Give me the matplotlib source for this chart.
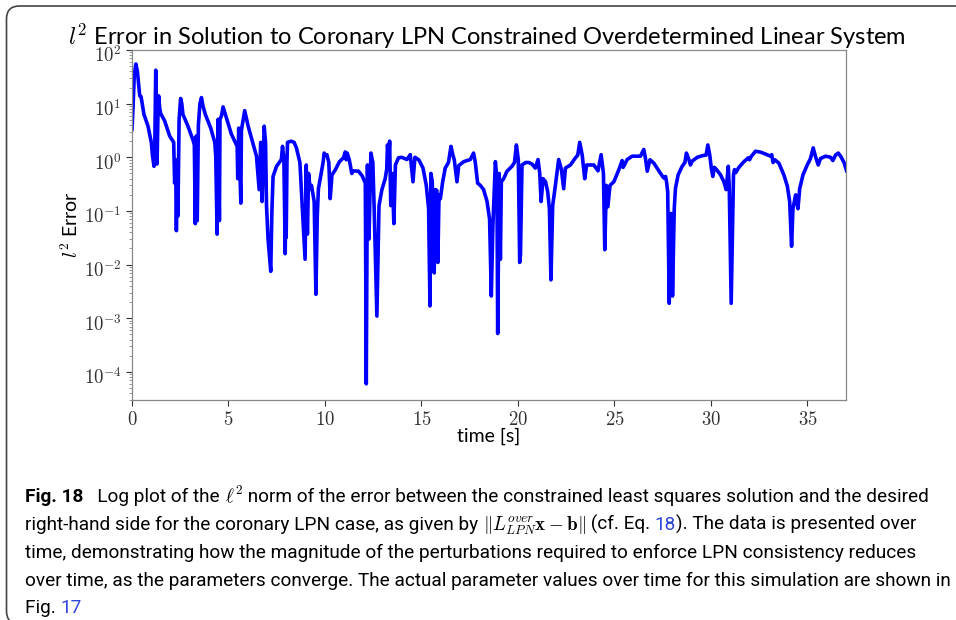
import matplotlib
matplotlib.use("Agg")
import matplotlib.pyplot as plt
import matplotlib.transforms as mtransforms
from matplotlib.patches import FancyBboxPatch

plt.rcParams["mathtext.fontset"] = "cm"

# time [s] and l2 error
t = [0.0, 0.05, 0.12, 0.2, 0.28, 0.4, 0.47, 0.62, 0.83, 1.0, 1.06, 1.14, 1.18, 1.23, 1.27, 1.3,
     1.34, 1.38, 1.44, 1.49, 1.69, 1.95, 2.16, 2.21, 2.26, 2.3, 2.34, 2.38, 2.44, 2.52, 2.58,
     2.64, 2.9, 3.16, 3.23, 3.28, 3.33, 3.38, 3.44, 3.52, 3.6, 3.68, 3.8, 4.08, 4.29, 4.34,
     4.41, 4.46, 4.53, 4.56, 4.64, 4.72, 4.8, 4.89, 5.15, 5.35, 5.45, 5.48, 5.53, 5.64, 5.67,
     5.76, 5.84, 5.92, 6.02, 6.22, 6.45, 6.59, 6.67, 6.74, 6.85, 6.92, 6.97, 7.05, 7.19, 7.25,
     7.31, 7.49, 7.74, 7.8, 7.87, 7.94, 7.97, 7.99, 8.03, 8.06, 8.25, 8.4, 8.52, 8.7, 8.85,
     8.97, 9.03, 9.09, 9.15, 9.23, 9.3, 9.44, 9.53, 9.6, 9.66, 9.79, 9.9, 9.96, 10.02, 10.1,
     10.2, 10.27, 10.36, 10.53, 10.75, 10.96, 11.05, 11.1, 11.15, 11.26, 11.39, 11.45, 11.74,
     11.93, 12.09, 12.14, 12.2, 12.28, 12.38, 12.48, 12.55, 12.69, 12.8, 12.95, 13.12, 13.2,
     13.24, 13.3, 13.35, 13.41, 13.48, 13.57, 13.65, 13.81, 13.98, 14.25, 14.42, 14.56, 14.66,
     14.86, 15.08, 15.25, 15.37, 15.44, 15.49, 15.56, 15.66, 15.73, 15.8, 15.85, 15.91, 15.98,
     16.1, 16.23, 16.4, 16.53, 16.63, 16.7, 16.84, 16.93, 17.19, 17.53, 17.7, 17.79, 17.91,
     18.05, 18.22, 18.4, 18.53, 18.62, 18.7, 18.83, 18.91, 18.95, 19.03, 19.09, 19.14, 19.26,
     19.43, 19.69, 19.82, 19.92, 20.02, 20.09, 20.13, 20.21, 20.4, 20.56, 20.73, 20.9, 21.04,
     21.13, 21.2, 21.3, 21.43, 21.54, 21.63, 21.71, 21.8, 21.94, 22.11, 22.25, 22.37, 22.46,
     22.72, 22.98, 23.1, 23.2, 23.33, 23.46, 23.56, 23.75, 23.93, 24.15, 24.31, 24.43, 24.5,
     24.58, 24.66, 24.77, 24.97, 25.23, 25.4, 25.45, 25.5, 25.66, 25.92, 26.35, 26.52, 26.6,
     26.7, 26.84, 27.04, 27.39, 27.56, 27.65, 27.7, 27.76, 27.84, 27.92, 27.97, 28.01, 28.1,
     28.16, 28.3, 28.51, 28.65, 28.73, 28.84, 28.94, 29.03, 29.29, 29.55, 29.75, 29.84, 29.94,
     30.02, 30.1, 30.18, 30.31, 30.5, 30.67, 30.79, 30.9, 30.95, 31.05, 31.17, 31.22, 31.29,
     31.45, 31.71, 31.94, 32.0, 32.1, 32.31, 32.57, 32.83, 33.09, 33.15, 33.22, 33.31, 33.52,
     33.78, 33.96, 34.08, 34.18, 34.25, 34.32, 34.39, 34.51, 34.6, 34.77, 34.99, 35.16, 35.3,
     35.43, 35.56, 35.68, 35.94, 36.2, 36.32, 36.46, 36.6, 36.72, 36.9, 37.03]

err = [3.3, 8, 35, 55, 40, 14, 13.5, 6.3, 3.8, 1.9, 1.1, 0.68, 1.5, 42, 8, 0.75,
       5, 14, 8, 6.5, 4.8, 2.5, 1.9, 0.33, 0.9, 0.043, 0.5, 0.08, 5, 12.5, 10,
       6.3, 3.8, 2.1, 1.7, 0.058, 2.5, 0.066, 4, 10, 13, 9, 6.3, 3.5, 1.9, 1.05,
       0.037, 5.1, 0.066, 5.1, 6, 8.7, 7, 5.5, 2.7, 1.9, 1.6, 0.4, 3.5, 0.14, 3.2,
       5, 7.4, 5.5, 3.8, 2.1, 1.05, 0.25, 1.9, 0.15, 3.8, 1.9, 0.126, 0.03, 0.0075, 0.1,
       0.44, 0.68, 0.91, 1.6, 0.91, 0.016, 0.3, 0.032, 0.8, 1.9, 2.0, 1.9, 1.5, 0.8, 0.08,
       0.0126, 0.72, 0.037, 0.5, 0.26, 0.3, 0.15, 0.0028, 0.08, 0.26, 0.47, 0.8, 1.2, 1.1, 1.12,
       0.8, 0.17, 0.47, 0.58, 0.83, 0.98, 1.26, 0.9, 1.2, 0.9, 0.5, 0.56, 0.55,
       0.45, 0.33, 0.00006, 0.72, 0.03, 1.2, 0.8, 0.11, 0.0011, 0.126, 0.25, 0.4, 0.6,
       1.7, 0.8, 2.0, 0.126, 0.5, 0.058, 0.72, 0.98, 1.0, 0.91, 1.12, 0.35, 1.0,
       0.9, 0.63, 0.3, 0.11, 0.0017, 0.5, 0.35, 0.007, 0.25, 0.24, 0.011, 0.2, 0.17,
       0.35, 0.63, 0.8, 1.6, 1.1, 0.9, 0.35, 0.7, 0.83, 0.91, 1.2, 0.8, 0.33,
       0.3, 0.25, 0.15, 0.07, 0.0026, 0.05, 0.83, 0.4, 0.00052, 0.5, 0.0126, 0.35, 0.4,
       0.55, 0.68, 0.8, 1.7, 0.9, 0.011, 0.015, 0.72, 0.8, 0.8, 0.75, 0.63, 0.91,
       0.5, 0.15, 0.4, 0.35, 0.23, 0.11, 0.0052, 0.126, 0.3, 0.91, 0.6, 0.26, 0.63,
       0.72, 0.98, 1.1, 1.9, 1.1, 0.4, 0.72, 0.72, 0.72, 0.56, 1.12, 0.5, 0.019,
       0.3, 0.12, 0.3, 0.35, 0.59, 0.87, 0.65, 0.7, 0.91, 1.05, 1.05, 1.4, 1.0,
       0.55, 0.9, 0.78, 0.5, 0.41, 0.44, 0.35, 0.23, 0.0019, 0.09, 0.085, 0.0026, 0.11,
       0.26, 0.47, 0.68, 0.8, 1.2, 0.95, 0.72, 0.85, 1.0, 1.07, 1.1, 1.7, 1.1,
       0.63, 0.44, 0.65, 0.58, 0.47, 0.35, 0.25, 0.68, 0.28, 0.0019, 0.47, 0.59, 0.52,
       0.65, 0.83, 0.98, 0.9, 1.05, 1.3, 1.25, 1.15, 1.05, 1.12, 0.8, 0.9, 0.78,
       0.47, 0.29, 0.15, 0.022, 0.11, 0.15, 0.2, 0.11, 0.26, 0.47, 0.72, 0.95, 1.5,
       1.0, 0.72, 0.95, 1.05, 1.0, 0.87, 1.1, 1.2, 1.05, 0.8, 0.56]

xticks = [0, 5, 10, 15, 20, 25, 30, 35]
yexps = [-4, -3, -2, -1, 0, 1, 2]

title = r"$l^2$ Error in Solution to Coronary LPN Constrained Overdetermined Linear System"
sans = "Lato"

fig = plt.figure(figsize=(9.56, 6.2), dpi=100)
W, H = 956, 620

# rounded frame of the figure box
frame = FancyBboxPatch((0.065, -0.04), 10.5, 6.18, boxstyle="round,pad=0,rounding_size=0.13",
                       transform=fig.dpi_scale_trans, fill=False, ec="#444444", lw=1.2)
fig.patches.append(frame)

ax = fig.add_axes([132 / W, 1 - 400 / H, 714 / W, 350 / H])
ax.semilogy(t, err, color="#0000ff", lw=2.6)
ax.set_xlim(0, 37)
ax.set_ylim(3e-5, 100)
ax.set_xticks(xticks)
ax.set_xticklabels([f"${v}$" for v in xticks])
ax.set_yticks([10.0 ** e for e in yexps])
ax.set_yticklabels([f"$10^{{{e}}}$" for e in yexps], va="center_baseline")
ax.tick_params(labelsize=13.5, colors="#333333", length=4, width=0.8)
ax.tick_params(which="minor", length=2, width=0.6, colors="#888888")
for s in ax.spines.values():
    s.set_color("#888888")
    s.set_linewidth(0.9)

# the y labels sit a little below their ticks in the reference
shift = mtransforms.ScaledTranslation(0, -4 / 100, fig.dpi_scale_trans)
for lab in ax.get_yticklabels():
    lab.set_transform(lab.get_transform() + shift)

ax.set_xlabel("time [s]", fontsize=14, family=sans)
ax.xaxis.set_label_coords(0.5, -0.103)
ax.xaxis.label.set_va("center")
ax.set_ylabel(r"$l^2$ Error", fontsize=14, family=sans)
ax.yaxis.set_label_coords(-0.087, 0.5)
ax.yaxis.label.set_va("center")

fig.text(487 / W, 1 - 45 / H, title, fontsize=17, family=sans, ha="center", va="baseline")

# caption, drawn piece by piece
cap = "Roboto"
blue = "#2f45d8"
lines = [
    [("Fig. 18", "bold", "k"), ("   Log plot of the ", "normal", "k"), (r"$\ell^2$", "normal", "k"),
     (" norm of the error between the constrained least squares solution and the desired", "normal", "k")],
    [("right-hand side for the coronary LPN case, as given by ", "normal", "k"),
     (r"$\Vert L^{over}_{LPN}\mathbf{x} - \mathbf{b}\Vert$", "normal", "k"),
     (" (cf. Eq. ", "normal", "k"), ("18", "normal", blue), ("). The data is presented over", "normal", "k")],
    [("time, demonstrating how the magnitude of the perturbations required to enforce LPN consistency reduces", "normal", "k")],
    [("over time, as the parameters converge. The actual parameter values over time for this simulation are shown in", "normal", "k")],
    [("Fig. ", "normal", "k"), ("17", "normal", blue)],
]
line_base = [502, 530, 558, 585.5, 613]
renderer = fig.canvas.get_renderer()

# pick a caption size so the longest line spans the box like in the reference
probe = fig.text(0, 0, lines[3][0][0], fontsize=13, family=cap)
cap_size = 13 * 928 / probe.get_window_extent(renderer).width
probe.remove()

for pieces, yy in zip(lines, line_base):
    x = 25
    for txt, wt, col in pieces:
        tx = fig.text(x / W, 1 - yy / H, txt, fontsize=cap_size, family=cap,
                      weight=wt, color=col, va="baseline", ha="left")
        x += tx.get_window_extent(renderer).width

fig.savefig("out.png", dpi=100)
